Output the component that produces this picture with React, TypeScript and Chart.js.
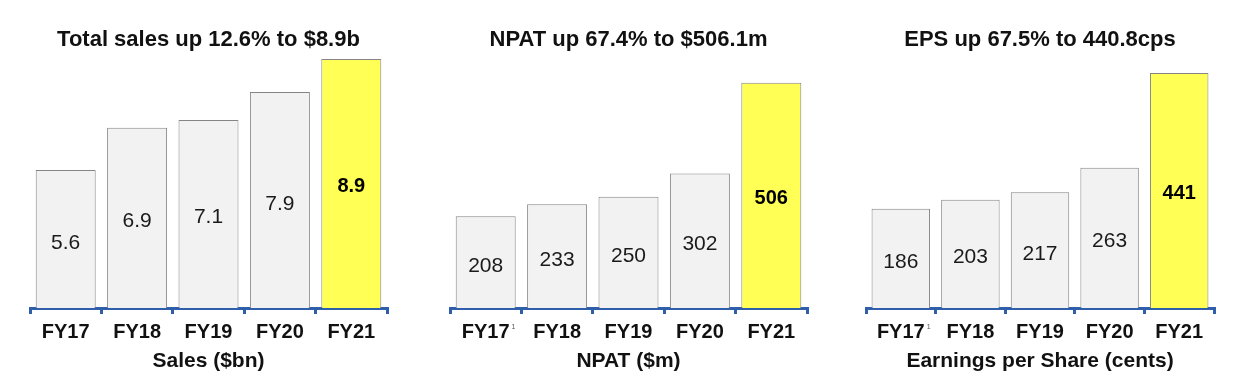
import React, { useEffect, useRef } from 'react';
import { Chart, registerables } from 'chart.js';

Chart.register(...registerables);

const categories = ['FY17', 'FY18', 'FY19', 'FY20', 'FY21'];

const salesValues = [5.6, 6.86, 7.09, 7.92, 8.9];
const salesLabels = ['5.6', '6.9', '7.1', '7.9', '8.9'];

const npatValues = [206, 233, 250, 302, 506];
const npatLabels = ['208', '233', '250', '302', '506'];

const epsValues = [186, 203, 217, 263, 441];
const epsLabels = ['186', '203', '217', '263', '441'];

const chartTitles = [
  'Total sales up 12.6% to $8.9b',
  'NPAT up 67.4% to $506.1m',
  'EPS up 67.5% to 440.8cps',
];
const axisTitles = ['Sales ($bn)', 'NPAT ($m)', 'Earnings per Share (cents)'];

const FONT = '"Liberation Sans", Arial, Helvetica, sans-serif';
const BLUE = '#2F5EAA';
const GREY_FILL = '#F2F2F2';
const YELLOW_FILL = '#FFFF55';
const BAR_BORDER = '#858585';
const HIGHLIGHT = 4;

const valueLabelPlugin = {
  id: 'valueLabels',
  afterDatasetsDraw(chart: any, _args: any, opts: any) {
    const { ctx } = chart;
    const meta = chart.getDatasetMeta(0);
    const labels: string[] = opts.labels || [];
    const bottom = chart.chartArea.bottom;
    meta.data.forEach((el: any, i: number) => {
      const props = el.getProps(['x', 'y', 'base'], true);
      const base = Math.min(props.base, bottom);
      const bold = i === opts.highlight;
      const size = bold ? 20 : 21;
      ctx.save();
      ctx.font = `${bold ? 'bold ' : ''}${size}px ${FONT}`;
      ctx.fillStyle = bold ? '#000000' : '#1a1a1a';
      ctx.textAlign = 'center';
      ctx.textBaseline = 'alphabetic';
      const mid = (props.y + base) / 2 + (bold ? 1 : 2);
      ctx.fillText(labels[i], props.x, mid + size * 0.358);
      ctx.restore();
    });
  },
};

const footnotePlugin = {
  id: 'footnote',
  afterDraw(chart: any, _args: any, opts: any) {
    if (!opts || !opts.text) return;
    const scale = chart.scales.x;
    const ctx = chart.ctx;
    const xc = scale.getPixelForTick(opts.index);
    ctx.save();
    ctx.font = `bold 20px ${FONT}`;
    const w = ctx.measureText(categories[opts.index]).width;
    ctx.font = `7px ${FONT}`;
    ctx.fillStyle = '#555555';
    ctx.textAlign = 'left';
    ctx.textBaseline = 'alphabetic';
    ctx.fillText(opts.text, xc + w / 2 + 2, scale.top + 21);
    ctx.restore();
  },
};

type PanelProps = {
  left: number;
  width: number;
  values: number[];
  labels: string[];
  title: string;
  axisTitle: string;
  yMin: number;
  yMax: number;
  footnote?: string;
};

function Panel(props: PanelProps) {
  const ref = useRef<HTMLCanvasElement | null>(null);
  useEffect(() => {
    if (!ref.current) return;
    const colors = props.values.map((_, i) => (i === HIGHLIGHT ? YELLOW_FILL : GREY_FILL));
    const chart = new Chart(ref.current, {
      type: 'bar',
      data: {
        labels: categories,
        datasets: [
          {
            data: props.values,
            backgroundColor: colors,
            borderColor: BAR_BORDER,
            borderWidth: 1,
            categoryPercentage: 1,
            barPercentage: 0.84,
          },
        ],
      },
      options: {
        responsive: false,
        animation: false,
        devicePixelRatio: 1,
        layout: { padding: { left: 30, right: 30, top: 0, bottom: 0 } },
        plugins: {
          legend: { display: false },
          tooltip: { enabled: false },
          title: {
            display: true,
            text: props.title,
            color: '#111111',
            font: { size: 22, weight: 'bold', family: FONT, lineHeight: 1.2 },
            padding: { top: 26.8, bottom: 1.8 },
          },
          valueLabels: { labels: props.labels, highlight: HIGHLIGHT },
          footnote: { text: props.footnote || '', index: 0 },
        } as any,
        scales: {
          x: {
            offset: true,
            grid: {
              offset: true,
              drawOnChartArea: false,
              drawTicks: true,
              tickLength: 6,
              tickWidth: 3,
              tickColor: BLUE,
              color: BLUE,
              lineWidth: 3,
            },
            border: { display: true, color: BLUE, width: 3 },
            ticks: {
              color: '#111111',
              font: { size: 20, weight: 'bold', family: FONT, lineHeight: 1.2 },
              padding: 6,
              maxRotation: 0,
              autoSkip: false,
            },
            title: {
              display: true,
              text: props.axisTitle,
              color: '#111111',
              font: { size: 21, weight: 'bold', family: FONT, lineHeight: 1.2 },
              padding: { top: 0, bottom: 14 },
            },
            afterFit: (s: any) => {
              s.height = 80;
            },
          },
          y: { display: false, min: props.yMin, max: props.yMax },
        },
      },
      plugins: [valueLabelPlugin, footnotePlugin],
    });
    return () => chart.destroy();
  }, []);
  return (
    <div style={{ position: 'absolute', left: props.left, top: 0, width: props.width, height: 388 }}>
      <canvas ref={ref} width={props.width} height={388} style={{ display: 'block' }} />
    </div>
  );
}

export default function App() {
  return (
    <div style={{ position: 'absolute', left: 0, top: 0, width: 1250, height: 388, background: '#ffffff', overflow: 'hidden' }}>
      <Panel left={0} width={417} values={salesValues} labels={salesLabels} title={chartTitles[0]} axisTitle={axisTitles[0]} yMin={1.5} yMax={9.02} />
      <Panel left={420} width={417} values={npatValues} labels={npatLabels} title={chartTitles[1]} axisTitle={axisTitles[1]} yMin={0} yMax={568.5} footnote="1" />
      <Panel left={836} width={408} values={epsValues} labels={epsLabels} title={chartTitles[2]} axisTitle={axisTitles[2]} yMin={0} yMax={474.7} footnote="1" />
    </div>
  );
}
